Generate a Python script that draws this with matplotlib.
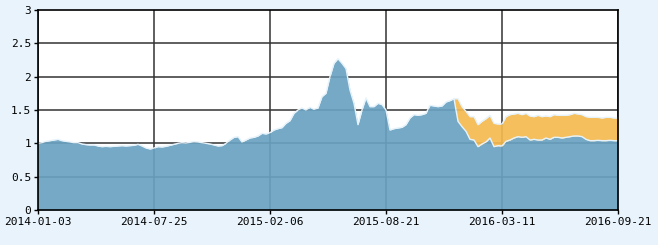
import matplotlib
matplotlib.use("Agg")
import matplotlib.pyplot as plt
import numpy as np

tick_labels = ["2014-01-03", "2014-07-25", "2015-02-06", "2015-08-21", "2016-03-11", "2016-09-21"]

base = [1.00, 1.01, 1.03, 1.04, 1.05, 1.06, 1.04, 1.03, 1.02, 1.01,
        1.01, 0.99, 0.98, 0.975, 0.975, 0.96, 0.95, 0.955, 0.95, 0.955,
        0.96, 0.965, 0.96, 0.965, 0.97, 0.985, 0.96, 0.93, 0.915, 0.93,
        0.95, 0.945, 0.955, 0.97, 0.985, 1.00, 1.01, 1.005, 1.015, 1.025,
        1.02, 1.01, 1.00, 0.99, 0.975, 0.96, 0.965, 1.00, 1.05, 1.09,
        1.10, 1.02, 1.05, 1.08, 1.09, 1.11, 1.15, 1.14, 1.16, 1.20,
        1.22, 1.235, 1.30, 1.34, 1.45, 1.50, 1.53, 1.50, 1.54, 1.51,
        1.53, 1.70, 1.75, 2.00, 2.20, 2.27, 2.20, 2.12, 1.80, 1.60,
        1.28, 1.50, 1.68, 1.55, 1.55, 1.60, 1.58, 1.50, 1.20, 1.22,
        1.23, 1.24, 1.28, 1.38, 1.43, 1.42, 1.43, 1.45, 1.57, 1.56,
        1.55, 1.56, 1.62, 1.64, 1.67, 1.33, 1.25, 1.18, 1.06, 1.05,
        0.95, 0.99, 1.02, 1.08, 0.95, 0.965, 0.96, 1.03, 1.05, 1.08,
        1.10, 1.09, 1.10, 1.05, 1.06, 1.05, 1.05, 1.08, 1.06, 1.09,
        1.09, 1.08, 1.09, 1.10, 1.11, 1.11, 1.10, 1.06, 1.04, 1.04,
        1.045, 1.04, 1.04, 1.045, 1.04, 1.04]

extra_start = 104
total = [1.67, 1.67, 1.55, 1.48, 1.40, 1.40, 1.28, 1.33, 1.37, 1.42,
         1.30, 1.29, 1.29, 1.40, 1.43, 1.44, 1.45, 1.43, 1.45, 1.41,
         1.40, 1.42, 1.40, 1.41, 1.40, 1.43, 1.42, 1.42, 1.42, 1.43,
         1.45, 1.44, 1.43, 1.40, 1.39, 1.39, 1.39, 1.38, 1.39, 1.39,
         1.38, 1.38]

x = np.arange(len(base))
base_arr = np.array(base)
xt = np.arange(extra_start, extra_start + len(total))

fig = plt.figure(figsize=(6.58, 2.45), dpi=100)
fig.patch.set_facecolor("#E8F3FB")
ax = fig.add_axes([38/658, 1 - 210/245, 580/658, 200/245])
ax.set_facecolor("white")

step = (len(base) - 1) / 5
ticks = [i * step for i in range(6)]
for t in ticks:
    ax.axvline(t, color="#333333", lw=1.1, zorder=1)
for v in [0.5, 1, 1.5, 2, 2.5]:
    ax.axhline(v, color="#333333", lw=1.1, zorder=1)

ax.fill_between(x, 0, base_arr, color="#6AA2C1", alpha=0.92, lw=0, zorder=2)
ax.fill_between(xt, base_arr[xt], total, color="#F5BA50", alpha=0.92, lw=0, zorder=2)
ax.plot(x, base_arr, color="#E6F3FB", lw=1.0, zorder=3)
ax.plot(xt, total, color="#E6F3FB", lw=1.0, zorder=3)

ax.set_xlim(0, len(base) - 1)
ax.set_ylim(0, 3)
ax.set_xticks(ticks)
ax.set_xticklabels(tick_labels)
ax.set_yticks([0, 0.5, 1, 1.5, 2, 2.5, 3])
ax.set_yticklabels(["0", "0.5", "1", "1.5", "2", "2.5", "3"])
for lab in ax.get_xticklabels() + ax.get_yticklabels():
    lab.set_fontfamily("DejaVu Sans Mono")
    lab.set_fontsize(8)
    lab.set_color("#000000")
ax.tick_params(axis="both", length=3, width=1, color="black", pad=2)
for s in ax.spines.values():
    s.set_color("black")
    s.set_linewidth(1.2)
    s.set_zorder(4)

fig.savefig("out.png", dpi=100, facecolor=fig.get_facecolor())
